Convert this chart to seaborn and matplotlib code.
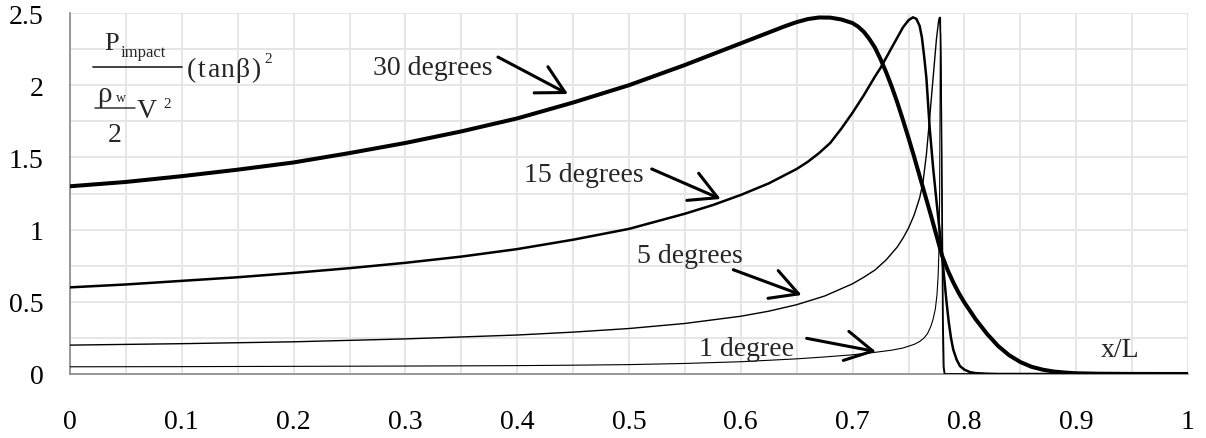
import numpy as np
import pandas as pd
import matplotlib
matplotlib.use("Agg")
import matplotlib.pyplot as plt
from matplotlib.ticker import MultipleLocator, FuncFormatter
from matplotlib.lines import Line2D
import seaborn as sns

# Normalised impact pressure along the keel for several deadrise angles
x_30 = [0.0, 0.05, 0.1, 0.15, 0.2, 0.25, 0.3, 0.35, 0.4, 0.45, 0.5, 0.55,
        0.56, 0.57, 0.58, 0.59, 0.6, 0.61, 0.62, 0.63, 0.64, 0.65, 0.66, 0.67,
        0.68, 0.69, 0.7, 0.705, 0.71, 0.715, 0.72, 0.725, 0.73, 0.735, 0.74,
        0.745, 0.75, 0.755, 0.76, 0.765, 0.77, 0.775, 0.78, 0.785, 0.79,
        0.795, 0.8, 0.81, 0.82, 0.83, 0.84, 0.85, 0.86, 0.87, 0.88, 0.89,
        0.9, 0.92, 0.95, 1.0]
y_30 = [1.30, 1.33, 1.37, 1.415, 1.465, 1.53, 1.60, 1.68, 1.77, 1.88, 2.00,
        2.14, 2.17, 2.20, 2.23, 2.26, 2.29, 2.32, 2.35, 2.38, 2.41, 2.437,
        2.458, 2.469, 2.468, 2.455, 2.43, 2.405, 2.37, 2.32, 2.26, 2.18, 2.09,
        1.99, 1.88, 1.76, 1.635, 1.505, 1.37, 1.235, 1.10, 0.96, 0.82, 0.72,
        0.635, 0.56, 0.495, 0.38, 0.28, 0.195, 0.13, 0.083, 0.05, 0.03,
        0.017, 0.01, 0.005, 0.002, 0.0005, 0.0]

x_15 = [0.0, 0.05, 0.1, 0.15, 0.2, 0.25, 0.3, 0.35, 0.4, 0.45, 0.5, 0.55,
        0.575, 0.6, 0.625, 0.65, 0.66, 0.67, 0.68, 0.69, 0.7, 0.71, 0.72,
        0.725, 0.73, 0.735, 0.74, 0.745, 0.75, 0.754, 0.757, 0.76, 0.762,
        0.764, 0.766, 0.769, 0.772, 0.775, 0.778, 0.78, 0.782, 0.784, 0.786,
        0.788, 0.79, 0.793, 0.796, 0.8, 0.805, 0.81, 0.82, 0.83, 1.0]
y_15 = [0.60, 0.62, 0.645, 0.67, 0.70, 0.733, 0.77, 0.813, 0.865, 0.93, 1.005,
        1.11, 1.17, 1.24, 1.32, 1.42, 1.47, 1.53, 1.60, 1.70, 1.81, 1.93,
        2.06, 2.12, 2.19, 2.26, 2.33, 2.40, 2.45, 2.47, 2.46, 2.41, 2.33,
        2.20, 2.05, 1.70, 1.43, 1.20, 0.98, 0.82, 0.66, 0.50, 0.36,
        0.25, 0.17, 0.10, 0.055, 0.03, 0.013, 0.006, 0.002, 0.0, 0.0]

x_5 = [0.0, 0.1, 0.2, 0.3, 0.4, 0.45, 0.5, 0.55, 0.6, 0.625, 0.65, 0.675, 0.7,
       0.71, 0.72, 0.73, 0.74, 0.745, 0.75, 0.755, 0.76, 0.763, 0.766, 0.769,
       0.772, 0.775, 0.777, 0.7778, 0.7786, 0.7795, 0.7803, 0.781, 0.7817,
       0.7825, 1.0]
y_5 = [0.20, 0.21, 0.223, 0.243, 0.27, 0.29, 0.315, 0.35, 0.40, 0.435, 0.48,
       0.54, 0.625, 0.67, 0.72, 0.79, 0.88, 0.94, 1.01, 1.10, 1.22, 1.33,
       1.52, 1.78, 2.05, 2.32, 2.45, 2.47, 2.35, 1.80, 1.00, 0.35, 0.05,
       0.0, 0.0]

x_1 = [0.0, 0.1, 0.2, 0.3, 0.4, 0.45, 0.5, 0.55, 0.6, 0.65, 0.675, 0.7, 0.72,
       0.735, 0.745, 0.755, 0.76, 0.764, 0.767, 0.77, 0.772, 0.774, 0.7755,
       0.7765, 0.7772, 0.7778, 0.7782, 0.7786, 0.7792, 0.7798, 0.7804, 0.781,
       0.782, 1.0]
y_1 = [0.050, 0.051, 0.053, 0.055, 0.058, 0.061, 0.065, 0.073, 0.085, 0.105,
       0.118, 0.133, 0.150, 0.165, 0.18, 0.205, 0.225, 0.25, 0.28, 0.33, 0.38,
       0.45, 0.55, 0.68, 0.85, 1.20, 1.80, 2.47, 2.10, 1.20, 0.40, 0.05,
       0.0, 0.0]

series_labels = ["30 degrees", "15 degrees", "5 degrees", "1 degree"]
series_x = [x_30, x_15, x_5, x_1]
series_y = [y_30, y_15, y_5, y_1]
series_lw = [2.9, 1.8, 1.0, 0.8]

x_ticks = [0, 0.1, 0.2, 0.3, 0.4, 0.5, 0.6, 0.7, 0.8, 0.9, 1.0]
y_ticks = [0, 0.5, 1.0, 1.5, 2.0, 2.5]

sns.set_theme(style="white")
plt.rcParams["font.family"] = ["Liberation Serif", "DejaVu Serif"]

W, H = 1206, 439
fig = plt.figure(figsize=(W / 100, H / 100), dpi=100)
ax = fig.add_axes([70 / W, 1 - 375 / H, 1118 / W, 361 / H])

frames = []
for lab, xs, ys in zip(series_labels, series_x, series_y):
    frames.append(pd.DataFrame({"x": xs, "p": ys, "angle": lab}))
df = pd.concat(frames, ignore_index=True)

for lab, lw in zip(series_labels, series_lw):
    sub = df[df["angle"] == lab]
    sns.lineplot(data=sub, x="x", y="p", ax=ax, color="black", linewidth=lw,
                 estimator=None, sort=False, legend=False, zorder=3,
                 solid_joinstyle="round", solid_capstyle="round")

ax.set_xlim(0, 1)
ax.set_ylim(0, 2.5)
ax.set_xlabel("")
ax.set_ylabel("")
ax.set_xticks(x_ticks)
ax.set_yticks(y_ticks)
ax.xaxis.set_minor_locator(MultipleLocator(0.05))
ax.yaxis.set_minor_locator(MultipleLocator(0.25))
fmt = FuncFormatter(lambda v, pos: f"{v:g}")
ax.xaxis.set_major_formatter(fmt)
ax.yaxis.set_major_formatter(fmt)
ax.grid(which="both", color="#e6e6e6", linewidth=1.4, zorder=0)
ax.set_axisbelow(True)

for side in ("top", "right"):
    ax.spines[side].set_visible(False)
for side in ("left", "bottom"):
    ax.spines[side].set_color("#888888")
    ax.spines[side].set_linewidth(1.2)
ax.tick_params(which="major", direction="out", length=6, width=1.2,
               color="#888888", labelsize=20, labelcolor="black")
ax.tick_params(axis="x", which="major", pad=19)
ax.tick_params(axis="y", which="major", pad=13)
ax.tick_params(which="minor", length=0)

# Curve labels with pointer arrows
labels_pos = {
    "30 degrees": ((0.3242, 2.078), (0.3828, 2.195), (0.4454, 1.939)),
    "15 degrees": ((0.4593, 1.339), (0.5203, 1.420), (0.5820, 1.212)),
    "5 degrees": ((0.5546, 0.776), (0.5933, 0.722), (0.6544, 0.547)),
    "1 degree": ((0.6047, 0.132), (0.6589, 0.247), (0.7209, 0.155)),
}
arrow_kw = dict(arrowstyle="->,head_length=0.7,head_width=0.38",
                color="black", lw=2.2, shrinkA=0, shrinkB=0,
                mutation_scale=28)
for lab, (tpos, tail, tip) in labels_pos.items():
    ax.text(tpos[0], tpos[1], lab, fontsize=20, ha="center", va="baseline",
            zorder=5)
    ax.annotate("", xy=tip, xytext=tail, arrowprops=arrow_kw, zorder=5)

ax.text(0.9392, 0.124, "x/L", fontsize=20, ha="center", va="baseline", zorder=5)


# Pressure coefficient expression in the upper-left corner
def put(txt, px, py, size):
    fig.text(px / W, 1 - py / H, txt, fontsize=size, ha="left", va="baseline")


def bar(x0, x1, py, lw=1.3):
    fig.add_artist(Line2D([x0 / W, x1 / W], [1 - py / H, 1 - py / H],
                          transform=fig.transFigure, color="#333333",
                          linewidth=lw))


put("P", 104, 50, 19)
put("impact", 121, 57, 12)
bar(93, 182, 68)
for ch, px in zip("(tanβ)", [187, 198, 208, 220, 235, 251]):
    put(ch, px, 77, 20)
put("2", 264, 63, 11)
put("ρ", 97, 102, 21)
put("w", 116, 102, 10)
bar(95, 135, 109, lw=1.1)
put("2", 108, 142, 20)
put("V", 137, 118, 20)
put("2", 163, 108, 11)

fig.savefig("out.png", dpi=100)
